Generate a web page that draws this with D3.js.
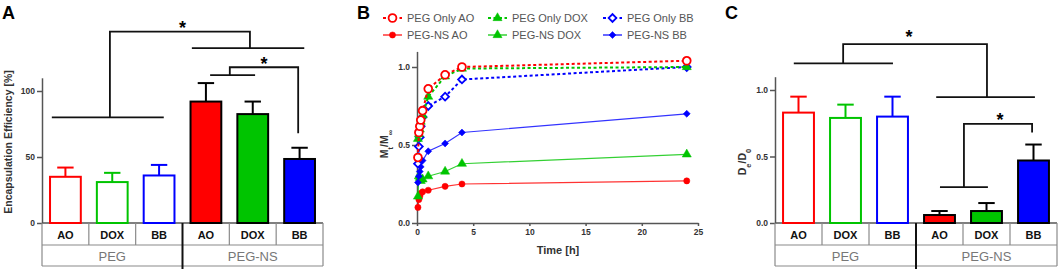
<!DOCTYPE html>
<html>
<head>
<meta charset="utf-8">
<script src="https://cdn.jsdelivr.net/npm/d3@7"></script>
<style>
    body { margin: 0; background: #fff; }
    svg { font-family: "Liberation Sans", Arial, sans-serif; }
    .tick text { font-weight: bold; font-size: 8.5px; fill: #333; }
    .domain, .tick line { stroke: #555; stroke-width: 1.5; }
</style>
</head>
<body>
<div id="chart"></div>
<script>
//DATA
const groups = ["PEG", "PEG-NS"];
const drugs = ["AO", "DOX", "BB"];

// panel A: encapsulation efficiency [%], PEG AO/DOX/BB then PEG-NS AO/DOX/BB
const encapMean = [35, 31, 36, 92, 82.5, 48.5];
const encapSd = [7, 7, 8, 14, 9.5, 8.5];
const encapTicks = [0, 50, 100];

// panel C: De/D0
const depletionMean = [0.83, 0.79, 0.80, 0.06, 0.09, 0.47];
const depletionSd = [0.12, 0.10, 0.15, 0.03, 0.06, 0.12];
const depletionTicks = [0, 0.5, 1.0];

// panel B: release Mt/Minf over time [h]
const releaseTime = [0.083, 0.167, 0.25, 0.333, 0.5, 1, 2.5, 4, 24];
const pegOnlyAO = [0.42, 0.58, 0.62, 0.66, 0.72, 0.86, 0.95, 1.0, 1.04];
const pegOnlyDOX = [0.54, 0.57, 0.60, 0.65, 0.69, 0.81, 0.94, 0.99, 1.0];
const pegOnlyBB = [0.38, 0.49, 0.55, 0.62, 0.68, 0.75, 0.81, 0.92, 1.0];
const pegNsAO = [0.10, 0.15, 0.17, 0.19, 0.20, 0.21, 0.235, 0.25, 0.27];
const pegNsDOX = [0.17, 0.30, 0.29, 0.27, 0.28, 0.30, 0.33, 0.38, 0.44];
const pegNsBB = [0.26, 0.30, 0.33, 0.36, 0.40, 0.46, 0.51, 0.58, 0.70];
const timeTicks = [0, 5, 10, 15, 20, 25];
const releaseTicks = [0, 0.5, 1.0];

// significance brackets, points as [slot, value]
const sigA = [
    { lines: [[[0.21, 80], [2.6, 80]], [[1.45, 80], [1.45, 145], [4.44, 145], [4.44, 132.5]], [[3.2, 132.5], [5.6, 132.5]]], star: [3.0, 151.5] },
    { lines: [[[3.59, 112], [4.55, 112]], [[4.01, 112], [4.01, 118], [5.47, 118], [5.47, 68]]], star: [4.74, 123.5] }
];
const sigC = [
    { lines: [[[0.40, 1.20], [2.51, 1.20]], [[1.45, 1.20], [1.45, 1.345], [4.51, 1.345], [4.51, 0.947]], [[3.43, 0.947], [5.53, 0.947]]], star: [2.85, 1.436] },
    { lines: [[[3.51, 0.27], [4.53, 0.27]], [[4.02, 0.27], [4.02, 0.745], [5.47, 0.745], [5.47, 0.68]]], star: [4.79, 0.805] }
];

const drugColor = { AO: "#ff0000", DOX: "#00c400", BB: "#0000ff" };

const svg = d3.select("#chart").append("svg")
    .attr("width", 1059)
    .attr("height", 271);

//BAR PANEL (A and C)
function drawBarPanel(o) {
    const slot = d3.scaleLinear().domain([0, 6]).range([o.left, o.right]);
    const xScale = d3.scaleBand()
        .domain(d3.range(6))
        .range([o.left, o.right])
        .paddingInner(0.3)
        .paddingOuter(0.15);
    const yScale = d3.scaleLinear().domain(o.domain).range([o.base, o.top]);

    const g = svg.append("g");

    // axis
    g.append("g")
        .attr("transform", `translate(${o.left},0)`)
        .call(d3.axisLeft(yScale).tickValues(o.ticks).tickFormat(o.format).tickSize(5).tickSizeOuter(0).tickPadding(2));
    g.append("line")
        .attr("x1", o.left).attr("x2", o.right)
        .attr("y1", o.base).attr("y2", o.base)
        .attr("stroke", "#555").attr("stroke-width", 1.5);

    const rows = o.means.map((m, i) => ({ mean: m, sd: o.sds[i], i, drug: drugs[i % 3], ns: i >= 3 }));

    // error bars
    const err = g.selectAll(".err").data(rows).enter().append("g")
        .attr("stroke", d => d.ns ? "#000" : drugColor[d.drug])
        .attr("stroke-width", 2);
    err.append("line")
        .attr("x1", d => xScale(d.i) + xScale.bandwidth() / 2)
        .attr("x2", d => xScale(d.i) + xScale.bandwidth() / 2)
        .attr("y1", d => yScale(d.mean))
        .attr("y2", d => yScale(d.mean + d.sd));
    err.append("line")
        .attr("x1", d => xScale(d.i) + xScale.bandwidth() * 0.25)
        .attr("x2", d => xScale(d.i) + xScale.bandwidth() * 0.75)
        .attr("y1", d => yScale(d.mean + d.sd))
        .attr("y2", d => yScale(d.mean + d.sd));

    // bars
    g.selectAll(".bar").data(rows).enter().append("rect")
        .attr("x", d => xScale(d.i) + 1)
        .attr("width", xScale.bandwidth() - 2)
        .attr("y", d => yScale(d.mean))
        .attr("height", d => o.base - yScale(d.mean))
        .attr("fill", d => d.ns ? drugColor[d.drug] : "#fff")
        .attr("stroke", d => d.ns ? "#000" : drugColor[d.drug])
        .attr("stroke-width", 2);

    // category table
    const r1 = o.base, r2 = o.base + 22, r3 = o.base + 43;
    const grid = g.append("g").attr("stroke", "#8a8a8a").attr("stroke-width", 1.2);
    [r2, r3].forEach(y => grid.append("line").attr("x1", o.left).attr("x2", o.right).attr("y1", y).attr("y2", y));
    [0, 6].forEach(s => grid.append("line").attr("x1", slot(s)).attr("x2", slot(s)).attr("y1", r1).attr("y2", r3));
    [1, 2, 4, 5].forEach(s => grid.append("line").attr("x1", slot(s)).attr("x2", slot(s)).attr("y1", r1).attr("y2", r2));
    g.append("line")
        .attr("x1", slot(3)).attr("x2", slot(3))
        .attr("y1", r1).attr("y2", r3 + 3)
        .attr("stroke", "#111").attr("stroke-width", 2);

    g.selectAll(".drugLabel").data(rows).enter().append("text")
        .attr("x", d => slot(d.i + 0.5))
        .attr("y", r1 + 15.5)
        .attr("text-anchor", "middle")
        .attr("font-size", "11px")
        .attr("font-weight", "bold")
        .attr("fill", "#111")
        .text(d => d.drug);

    g.selectAll(".groupLabel").data(groups).enter().append("text")
        .attr("x", (d, i) => slot(i * 3 + 1.5))
        .attr("y", r2 + 16)
        .attr("text-anchor", "middle")
        .attr("font-size", "13px")
        .attr("fill", "#777")
        .text(d => d);

    // significance
    const line = d3.line().x(p => slot(p[0])).y(p => yScale(p[1]));
    o.sig.forEach(s => {
        s.lines.forEach(l => g.append("path")
            .attr("d", line(l))
            .attr("fill", "none")
            .attr("stroke", "#111")
            .attr("stroke-width", 1.8));
        g.append("text")
            .attr("x", slot(s.star[0]))
            .attr("y", yScale(s.star[1]) + 10.5)
            .attr("text-anchor", "middle")
            .attr("font-size", "18px")
            .attr("font-weight", "bold")
            .text("*");
    });

    // y label
    const lab = g.append("text")
        .attr("transform", `translate(${o.labelX},${o.labelY}) rotate(-90)`)
        .attr("text-anchor", "middle")
        .attr("font-size", "10.5px")
        .attr("font-weight", "bold")
        .attr("fill", "#333");
    o.label.forEach(p => lab.append("tspan")
        .attr("baseline-shift", p.sub ? "sub" : null)
        .attr("font-size", p.sub ? "7.5px" : null)
        .text(p.t));

    // panel letter
    svg.append("text")
        .attr("x", o.letterX).attr("y", 18.5)
        .attr("font-size", "18px").attr("font-weight", "bold")
        .text(o.letter);
}

drawBarPanel({
    left: 42, right: 323, base: 223, top: 223 - 110 * 1.32,
    domain: [0, 110], ticks: encapTicks, format: d3.format("d"),
    means: encapMean, sds: encapSd, sig: sigA,
    label: [{ t: "Encapsulation Efficiency [%]" }], labelX: 12, labelY: 142,
    letter: "A", letterX: 2
});

drawBarPanel({
    left: 775, right: 1057, base: 223, top: 223 - 1.1 * 133,
    domain: [0, 1.1], ticks: depletionTicks, format: d3.format(".1f"),
    means: depletionMean, sds: depletionSd, sig: sigC,
    label: [{ t: "D" }, { t: "e", sub: true }, { t: "/D" }, { t: "0", sub: true }], labelX: 746, labelY: 162,
    letter: "C", letterX: 725
});

//LINE PANEL (B)
const series = [
    { name: "PEG Only AO", values: pegOnlyAO, drug: "AO", dashed: true, open: true },
    { name: "PEG Only DOX", values: pegOnlyDOX, drug: "DOX", dashed: true, open: false },
    { name: "PEG Only BB", values: pegOnlyBB, drug: "BB", dashed: true, open: true },
    { name: "PEG-NS AO", values: pegNsAO, drug: "AO", dashed: false, open: false },
    { name: "PEG-NS DOX", values: pegNsDOX, drug: "DOX", dashed: false, open: false },
    { name: "PEG-NS BB", values: pegNsBB, drug: "BB", dashed: false, open: false }
];
// diamonds are squares turned by 45 degrees
const symbolType = { AO: d3.symbolCircle, DOX: d3.symbolTriangle, BB: d3.symbolSquare };
const symbolRotate = { AO: 0, DOX: 0, BB: 45 };
const symbolSize = s => s.open ? { AO: 48, DOX: 42, BB: 30 }[s.drug] : { AO: 30, DOX: 36, BB: 24 }[s.drug];

const xTime = d3.scaleLinear().domain([0, 25]).range([417, 698]);
const yRel = d3.scaleLinear().domain([0, 1.1]).range([223, 223 - 1.1 * 156]);

const gB = svg.append("g");
gB.append("g")
    .attr("transform", "translate(417,0)")
    .call(d3.axisLeft(yRel).tickValues(releaseTicks).tickFormat(d3.format(".1f")).tickSize(5).tickSizeOuter(0).tickPadding(2));
gB.append("g")
    .attr("transform", "translate(0,223)")
    .call(d3.axisBottom(xTime).tickValues(timeTicks).tickSize(3).tickSizeOuter(0).tickPadding(3));

const lineGen = d3.line().x(d => xTime(d[0])).y(d => yRel(d[1]));
const drawOrder = [3, 4, 5, 2, 1, 0];
drawOrder.forEach(k => {
    const s = series[k];
    const pts = releaseTime.map((t, i) => [t, s.values[i]]);
    gB.append("path")
        .attr("d", lineGen(pts))
        .attr("fill", "none")
        .attr("stroke", drugColor[s.drug])
        .attr("stroke-width", s.dashed ? 2 : 1.2)
        .attr("stroke-dasharray", s.dashed ? "3,2.5" : null)
        .attr("opacity", s.dashed ? 1 : 0.8);
    gB.selectAll(null).data(pts).enter().append("path")
        .attr("transform", d => `translate(${xTime(d[0])},${yRel(d[1])}) rotate(${symbolRotate[s.drug]})`)
        .attr("d", d3.symbol().type(symbolType[s.drug]).size(symbolSize(s)))
        .attr("fill", s.open ? "#fff" : drugColor[s.drug])
        .attr("stroke", drugColor[s.drug])
        .attr("stroke-width", s.open ? 1.8 : 0.5);
});

// legend
const legendX = [383, 488, 603];
const legendY = [18, 35];
const legend = gB.selectAll(".legend").data(series).enter().append("g")
    .attr("transform", (d, i) => `translate(${legendX[i % 3]},${legendY[Math.floor(i / 3)]})`);
legend.append("line")
    .attr("x1", 0).attr("x2", 19)
    .attr("stroke", d => drugColor[d.drug])
    .attr("stroke-width", d => d.dashed ? 2 : 1.2)
    .attr("stroke-dasharray", d => d.dashed ? "3,2.5" : null);
legend.append("path")
    .attr("transform", d => `translate(9.5,0) rotate(${symbolRotate[d.drug]})`)
    .attr("d", d => d3.symbol().type(symbolType[d.drug]).size(symbolSize(d))())
    .attr("fill", d => d.open ? "#fff" : drugColor[d.drug])
    .attr("stroke", d => drugColor[d.drug])
    .attr("stroke-width", d => d.open ? 1.8 : 0.5);
legend.append("text")
    .attr("x", 24).attr("y", 4)
    .attr("font-size", "11px")
    .attr("fill", "#555")
    .text(d => d.name);

// axis labels
gB.append("text")
    .attr("x", 558).attr("y", 254)
    .attr("text-anchor", "middle")
    .attr("font-size", "11px").attr("font-weight", "bold").attr("fill", "#333")
    .text("Time [h]");
const yLabB = gB.append("text")
    .attr("transform", "translate(388,144) rotate(-90)")
    .attr("text-anchor", "middle")
    .attr("font-size", "10.5px").attr("font-weight", "bold").attr("fill", "#333");
yLabB.append("tspan").text("M");
yLabB.append("tspan").attr("baseline-shift", "sub").attr("font-size", "7.5px").text("t");
yLabB.append("tspan").text("/M");
yLabB.append("tspan").attr("baseline-shift", "sub").attr("font-size", "7.5px").text("∞");

svg.append("text")
    .attr("x", 357).attr("y", 18.5)
    .attr("font-size", "18px").attr("font-weight", "bold")
    .text("B");
</script>
</body>
</html>
